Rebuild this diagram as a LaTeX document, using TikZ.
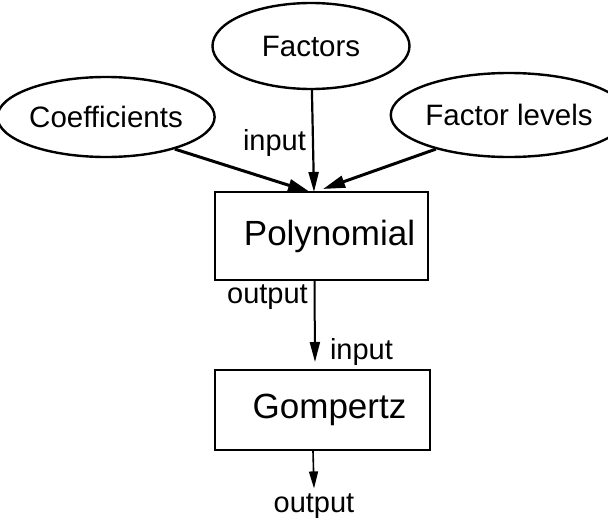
\documentclass[tikz,border=0pt]{standalone}
\usepackage{fontspec}
\setmainfont{Liberation Sans}
\usetikzlibrary{shapes.geometric,arrows.meta}
\begin{document}
\begin{tikzpicture}[x=1pt,y=-1pt,
  oval/.style={ellipse, draw, line width=2.4pt, inner sep=0pt, font=\fontsize{29.5}{32}\selectfont},
  block/.style={rectangle, draw, line width=2pt, inner sep=0pt, font=\fontsize{35}{38}\selectfont},
  lbl/.style={inner sep=0pt, font=\fontsize{29}{31}\selectfont},
  arr/.style={line width=3pt, -{Triangle[length=22pt,width=12pt]}},
  thinarr/.style={line width=2pt, -{Triangle[length=20pt,width=10pt]}}]
\useasboundingbox (0,0) rectangle (608,522);
\node[oval, minimum width=197pt, minimum height=86pt] (fac) at (311,46) {Factors};
\node[oval, minimum width=192pt, minimum height=80pt] (coef) at (106,117) {Coefficients};
\node[oval, minimum width=193pt, minimum height=84pt] (flev) at (509,115) {Factor levels};
\node[block, minimum width=213pt, minimum height=88pt] (poly) at (321.5,236) {\hspace*{16pt}Polynomial};
\node[block, minimum width=215pt, minimum height=80pt] (gomp) at (322.5,410) {\hspace*{14pt}Gompertz};
\coordinate (pin) at (314,192);
\node[lbl] (lin1) at (274.5,143.5) {input};
\node[lbl] (lout1) at (267.5,297) {output};
\node[lbl] (lin2) at (361.5,352) {input};
\node[lbl] (lout2) at (314,506) {output};
\draw[arr] (coef.-25) -- ([xshift=-4pt]pin);
\draw[arr] (flev.205) -- ([xshift=9pt,yshift=3pt]pin);
\draw[thinarr, line width=2.2pt] (fac) -- (pin);
\draw[thinarr] ([xshift=-7pt]poly.south) -- ([xshift=-7.5pt,yshift=7pt]gomp.north);
\draw[thinarr, line width=1.6pt, -{Triangle[length=17pt,width=9pt]}] ([xshift=-9.5pt]gomp.south) -- ([yshift=5pt]lout2.north);
\end{tikzpicture}
\end{document}
